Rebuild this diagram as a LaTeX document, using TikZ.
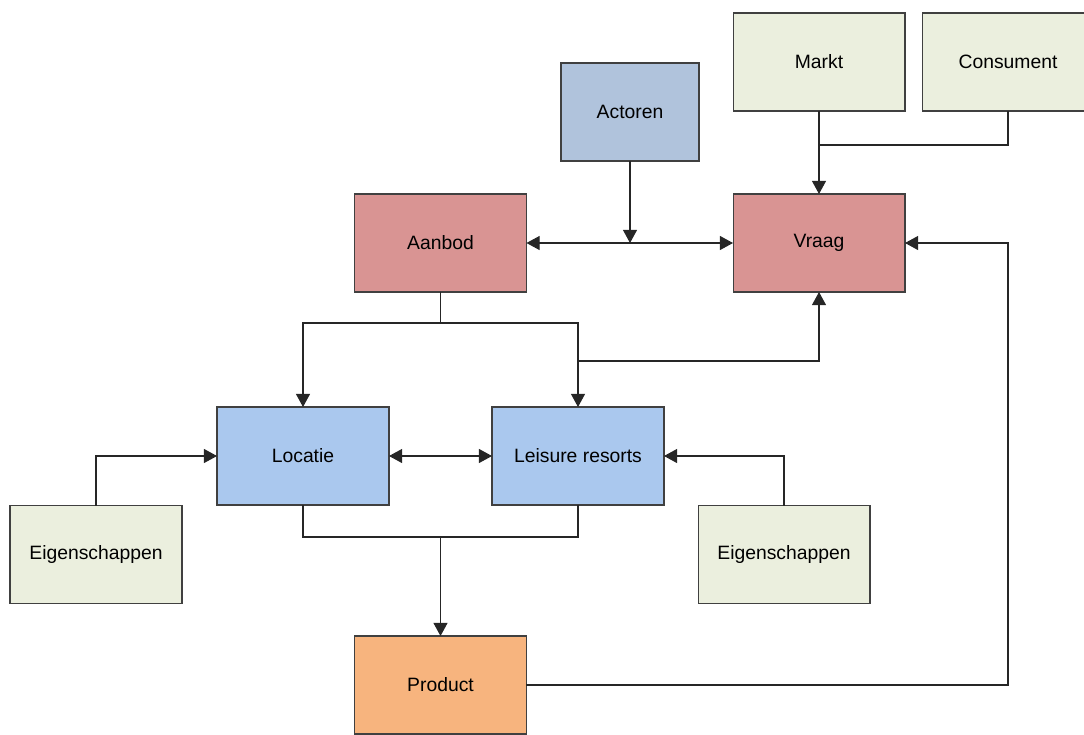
\documentclass[tikz,border=0pt]{standalone}
\usepackage{fontspec}
\setmainfont{Liberation Sans}
\usetikzlibrary{arrows.meta, positioning}
\definecolor{paleolive}{HTML}{EBEFDE}
\definecolor{steelgrey}{HTML}{B0C3DC}
\definecolor{rosered}{HTML}{D99493}
\definecolor{skyblue}{HTML}{AAC8EE}
\definecolor{apricot}{HTML}{F7B47E}
\definecolor{edgegrey}{HTML}{404040}

\tikzset{
  box/.style={draw=edgegrey, line width=0.6pt, minimum width=3.44cm, minimum height=1.96cm,
    outer sep=0pt, inner sep=0pt, font=\fontsize{11}{13}\selectfont},
  factor/.style={box, fill=paleolive},
  market/.style={box, fill=rosered},
  place/.style={box, fill=skyblue},
  link/.style={line width=0.6pt, draw=black!85},
  tip/.style={link, -{Triangle[length=7.5pt, width=8pt]}},
  twotip/.style={link, {Triangle[length=7.5pt, width=8pt]}-{Triangle[length=7.5pt, width=8pt]}}
}

\begin{document}
\begin{tikzpicture}[x=0.02cm, y=-0.02cm]
  \useasboundingbox (0,0) rectangle (1084,734);

  % top row
  \node[factor] (markt) at (819,62) {Markt};
  \node[factor] (consument) at (1008,62) {Consument};
  \node[box, fill=steelgrey, minimum width=2.76cm] (actoren) at (630,112) {Actoren};

  % vraag en aanbod
  \node[market] (aanbod) at (440.5,243) {Aanbod};
  \node[market] (vraag) at (819,243) {Vraag};

  % locatie en resorts
  \node[place] (locatie) at (303,456) {Locatie};
  \node[place] (leisure) at (578,456) {Leisure resorts};
  \node[factor] (eigL) at (96,554.5) {Eigenschappen};
  \node[factor] (eigR) at (784,554.5) {Eigenschappen};

  \node[box, fill=apricot] (product) at (440.5,685) {Product};

  \coordinate (mc) at (819,145);
  \coordinate (split) at (440.5,323);
  \coordinate (up) at (578,361);
  \coordinate (join) at (440.5,537);
  \coordinate (back) at (1008,243);

  \draw[tip] (markt.south) -- (vraag.north);
  \draw[link] (consument.south) |- (mc);
  \draw[tip] (actoren.south) -- (actoren.south |- aanbod.east);
  \draw[twotip] (aanbod.east) -- (vraag.west);

  \draw[link] (aanbod.south) -- (split);
  \draw[tip] (split) -| (locatie.north);
  \draw[tip] (split) -| (leisure.north);
  \draw[tip] (up) -| (vraag.south);

  \draw[twotip] (locatie.east) -- (leisure.west);
  \draw[tip] (eigL.north) |- (locatie.west);
  \draw[tip] (eigR.north) |- (leisure.east);

  \draw[link] (locatie.south) |- (join) -| (leisure.south);
  \draw[tip] (join) -- (product.north);
  \draw[tip] (product.east) -| (back) -- (vraag.east);

\end{tikzpicture}
\end{document}
